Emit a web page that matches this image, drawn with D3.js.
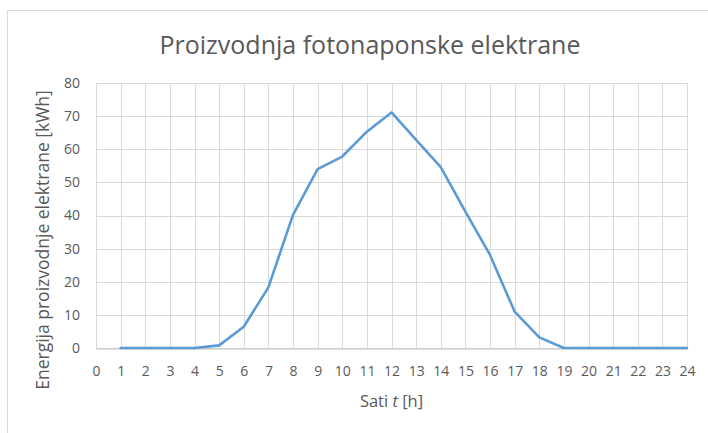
<!DOCTYPE html>
<html>
<head>
<meta charset="utf-8">
<script src="https://cdn.jsdelivr.net/npm/d3@7"></script>
<style>
  html, body { margin: 0; padding: 0; background: #fff; }
  svg { display: block; font-family: "Open Sans", sans-serif; }
</style>
</head>
<body>
<svg id="chart" width="708" height="433"></svg>
<script>
// Hourly output of the PV plant
const hours = [1, 2, 3, 4, 5, 6, 7, 8, 9, 10, 11, 12, 13, 14, 15, 16, 17, 18, 19, 20, 21, 22, 23, 24];
const energy = [0, 0, 0, 0, 0.8, 6.4, 18.3, 40.2, 54.0, 57.8, 65.3, 71.1, 62.8, 54.6, 41.2, 28.1, 11.0, 3.2, 0, 0, 0, 0, 0, 0];
const xTicks = d3.range(0, 25);
const yTicks = [0, 10, 20, 30, 40, 50, 60, 70, 80];

const svg = d3.select("#chart");
const margin = { left: 96, right: 21, top: 83, bottom: 85 };
const W = 708, H = 433;
const FONT = "'Open Sans', sans-serif";
const TEXT = "#595959";

// chart frame
svg.append("rect")
  .attr("x", 7.5).attr("y", 10.5)
  .attr("width", 720).attr("height", 440)
  .attr("fill", "#fff").attr("stroke", "#d9d9d9").attr("stroke-width", 1);

const x = d3.scaleLinear().domain([0, 24]).range([margin.left, W - margin.right]);
const y = d3.scaleLinear().domain([0, 80]).range([H - margin.bottom, margin.top]);

// gridlines
const grid = svg.append("g");
grid.selectAll("line.v").data(xTicks).join("line")
  .attr("x1", d => Math.round(x(d)) + 0.5).attr("x2", d => Math.round(x(d)) + 0.5)
  .attr("y1", y(80)).attr("y2", y(0))
  .attr("stroke", "#d9d9d9").attr("stroke-width", 1);
grid.selectAll("line.h").data(yTicks).join("line")
  .attr("x1", x(0)).attr("x2", x(24))
  .attr("y1", d => Math.round(y(d)) + 0.5).attr("y2", d => Math.round(y(d)) + 0.5)
  .attr("stroke", "#d9d9d9").attr("stroke-width", 1);

// x axis
const xAxis = svg.append("g")
  .attr("transform", `translate(0,${Math.round(y(0)) + 0.5})`)
  .call(d3.axisBottom(x).tickValues(xTicks).tickSize(0).tickPadding(18).tickFormat(d3.format("d")));
xAxis.select(".domain").attr("stroke", "#bfbfbf");
xAxis.selectAll("text").attr("fill", TEXT).style("font-size", "14px").style("font-family", FONT);

// y axis
const yAxis = svg.append("g")
  .attr("transform", `translate(${x(0)},0)`)
  .call(d3.axisLeft(y).tickValues(yTicks).tickSize(0).tickPadding(16).tickFormat(d3.format("d")));
yAxis.select(".domain").remove();
yAxis.selectAll("text").attr("fill", TEXT).style("font-size", "14px").style("font-family", FONT);

// series line
const line = d3.line().x((d, i) => x(hours[i])).y(d => y(d));
svg.append("path")
  .datum(energy)
  .attr("d", line)
  .attr("fill", "none")
  .attr("stroke", "#5b9bd5")
  .attr("stroke-width", 2.6)
  .attr("stroke-linejoin", "round")
  .attr("stroke-linecap", "round");

// title
svg.append("text")
  .attr("x", 370).attr("y", 54)
  .attr("text-anchor", "middle")
  .attr("fill", TEXT)
  .style("font-size", "25px")
  .text("Proizvodnja fotonaponske elektrane");

// axis titles
const xt = svg.append("text")
  .attr("x", (x(0) + x(24)) / 2).attr("y", 407)
  .attr("text-anchor", "middle")
  .attr("fill", TEXT)
  .style("font-size", "16.5px");
xt.append("tspan").text("Sati ");
xt.append("tspan").style("font-style", "italic").text("t");
xt.append("tspan").text(" [h]");

svg.append("text")
  .attr("transform", "translate(49,240) rotate(-90)")
  .attr("text-anchor", "middle")
  .attr("fill", TEXT)
  .style("font-size", "17.5px")
  .text("Energija proizvodnje elektrane [kWh]");
</script>
</body>
</html>
